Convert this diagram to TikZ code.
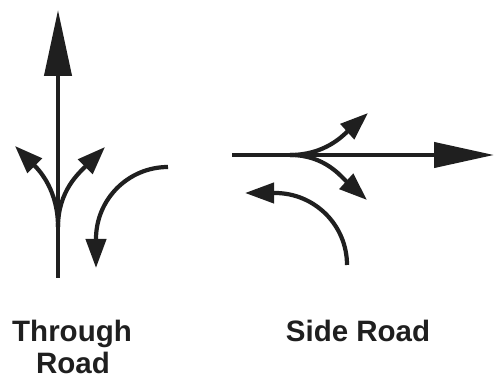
\documentclass[tikz,border=0pt]{standalone}
\usepackage{fontspec}
\setmainfont{Liberation Sans}
\usetikzlibrary{arrows.meta}
\begin{document}
\begin{tikzpicture}[x=1pt,y=1pt,
  road/.style={line width=4.2pt, draw=black!88},
  bigtip/.style={-{Triangle[length=66pt,width=27pt]}},
  sidetip/.style={-{Triangle[length=60pt,width=25pt]}},
  smalltip/.style={-{Triangle[length=28pt,width=20pt]}},
  turntip/.style={-{Triangle[length=29pt,width=20pt]}},
  lbl/.style={font=\fontsize{29.5}{33}\selectfont\bfseries, text=black!88, anchor=base, inner sep=0pt}]
\useasboundingbox (0,0) rectangle (494,379);
% Through road
\coordinate (tb) at (58,101);
\coordinate (tt) at (58,369);
\coordinate (ts) at (58,152);
\coordinate (tl) at (15,233);
\coordinate (tr) at (105,232);
\coordinate (ta) at (168,212);
\coordinate (tat) at (96,111);
\draw[road,bigtip] (tb) -- (tt);
\draw[road,smalltip] (ts) to[out=90,in=-45] (tl);
\draw[road,smalltip] (ts) to[out=90,in=-135] (tr);
\draw[road,turntip] (ta) arc[start angle=90,end angle=180,radius=72] -- (tat);
% Side road
\coordinate (sl) at (232,224);
\coordinate (sr) at (494,224);
\coordinate (ss) at (290,224);
\coordinate (su) at (368,266);
\coordinate (sd) at (367,179);
\coordinate (sa) at (347,114);
\coordinate (sat) at (245,186);
\draw[road,sidetip] (sl) -- (sr);
\draw[road,smalltip] (ss) to[out=0,in=-138] (su);
\draw[road,smalltip] (ss) to[out=0,in=138] (sd);
\draw[road,turntip] (sa) arc[start angle=0,end angle=90,radius=72] -- (sat);
% Labels
\node[lbl] (through) at (72,37) {Through};
\node[lbl] (road) at (73,5) {Road};
\node[lbl] (side) at (358,37) {Side Road};
\end{tikzpicture}
\end{document}
